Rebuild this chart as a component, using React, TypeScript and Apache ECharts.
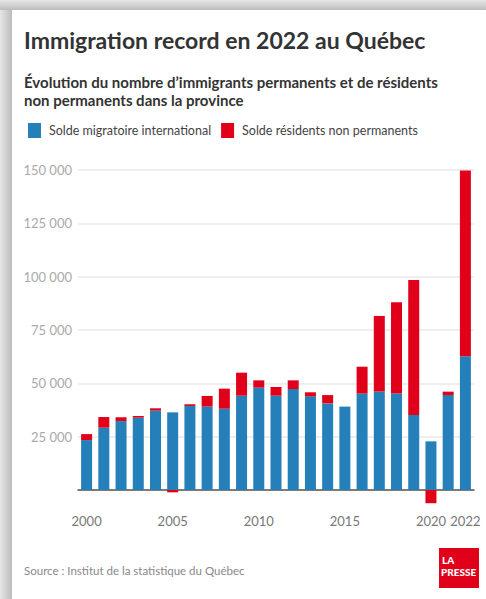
import React, { useEffect, useRef } from "react";
import * as echarts from "echarts";

const years = [
  "2000", "2001", "2002", "2003", "2004", "2005", "2006", "2007", "2008", "2009", "2010", "2011",
  "2012", "2013", "2014", "2015", "2016", "2017", "2018", "2019", "2020", "2021", "2022",
];
const soldeMigratoire = [
  23400, 29200, 32300, 33900, 37200, 36400, 39400, 39100, 38100, 44200, 48000, 44200,
  47300, 43900, 40600, 39100, 45200, 46100, 45200, 35200, 22800, 44500, 62700,
];
const soldeResidents = [
  2800, 5000, 1800, 800, 1100, -1100, 800, 5000, 9400, 10800, 3400, 4100,
  4100, 1900, 3900, 0, 12600, 35500, 42800, 63200, -6200, 1600, 87100,
];
const xTickLabels = ["2000", "2005", "2010", "2015", "2020", "2022"];
const yTicks = [0, 25000, 50000, 75000, 100000, 125000, 150000];

const BLUE = "#2580ba";
const RED = "#e1001a";
const FONT = "Lato, 'Open Sans', sans-serif";

const fmt = (v: number) => (v === 0 ? "" : String(v).replace(/\B(?=(\d{3})+(?!\d))/g, " "));

export default function App() {
  const ref = useRef<HTMLDivElement>(null);
  useEffect(() => {
    if (!ref.current) return;
    const chart = echarts.init(ref.current, null, { renderer: "svg" });
    chart.setOption({
      animation: false,
      backgroundColor: "#ffffff",
      textStyle: { fontFamily: FONT },
      graphic: [
        {
          type: "rect",
          shape: { x: 0, y: 0, width: 12, height: 599 },
          style: {
            fill: new echarts.graphic.LinearGradient(0, 0, 1, 0, [
              { offset: 0, color: "#e6e6e6" },
              { offset: 1, color: "#bcbcbc" },
            ]),
          },
          silent: true,
        },
        {
          type: "rect",
          shape: { x: 0, y: 0, width: 486, height: 10 },
          style: {
            fill: new echarts.graphic.LinearGradient(0, 0, 0, 1, [
              { offset: 0, color: "#e6e6e6" },
              { offset: 1, color: "#bcbcbc" },
            ]),
          },
          silent: true,
        },
        {
          type: "text",
          x: 24,
          y: 40,
          style: {
            text: "Immigration record en 2022 au Québec",
            font: `bold 23px ${FONT}`,
            fill: "#333333",
            verticalAlign: "middle",
          },
        },
        {
          type: "text",
          x: 24,
          y: 82,
          style: {
            text: "Évolution du nombre d’immigrants permanents et de résidents",
            font: `bold 15px ${FONT}`,
            fill: "#333333",
            verticalAlign: "middle",
          },
        },
        {
          type: "text",
          x: 24,
          y: 100,
          style: {
            text: "non permanents dans la province",
            font: `bold 15px ${FONT}`,
            fill: "#333333",
            verticalAlign: "middle",
          },
        },
        {
          type: "text",
          x: 24,
          y: 570,
          style: {
            text: "Source : Institut de la statistique du Québec",
            font: `11.5px ${FONT}`,
            fill: "#888888",
            verticalAlign: "middle",
          },
        },
        {
          type: "rect",
          shape: { x: 439, y: 548, width: 40, height: 40 },
          style: { fill: RED },
        },
        {
          type: "text",
          x: 442,
          y: 560,
          style: {
            text: "LA",
            font: `900 10px ${FONT}`,
            fill: "#ffffff",
            verticalAlign: "middle",
          },
        },
        {
          type: "text",
          x: 441,
          y: 572,
          style: {
            text: "PRESSE",
            font: `900 10px ${FONT}`,
            fill: "#ffffff",
            verticalAlign: "middle",
          },
        },
      ],
      legend: {
        left: 23,
        top: 118,
        itemWidth: 13,
        itemHeight: 15,
        itemGap: 10,
        icon: "rect",
        textStyle: { fontFamily: FONT, fontSize: 12.5, color: "#444444", padding: [0, 0, 0, 3] },
        data: ["Solde migratoire international", "Solde résidents non permanents"],
      },
      grid: { left: 78, right: 12, top: 170, bottom: 109, containLabel: false },
      xAxis: {
        type: "category",
        data: years,
        axisLine: { show: true, lineStyle: { color: "#555555", width: 1.5 } },
        axisTick: { show: false },
        axisLabel: {
          interval: (_i: number, v: string) => xTickLabels.includes(v),
          color: "#777777",
          fontSize: 13,
          fontFamily: FONT,
          margin: 24,
        },
      },
      yAxis: {
        type: "value",
        min: 0,
        max: 150000,
        interval: 25000,
        axisLine: { show: false },
        axisTick: { show: false },
        splitLine: { lineStyle: { color: "#e8e8e8", width: 1.5 } },
        axisLabel: {
          color: "#aaaaaa",
          fontSize: 13,
          fontFamily: FONT,
          margin: 6,
          formatter: (v: number) => (yTicks.includes(v) ? fmt(v) : ""),
        },
      },
      series: [
        {
          name: "Solde migratoire international",
          type: "bar",
          stack: "total",
          data: soldeMigratoire,
          barWidth: 11,
          clip: false,
          itemStyle: { color: BLUE },
        },
        {
          name: "Solde résidents non permanents",
          type: "bar",
          stack: "total",
          data: soldeResidents,
          barWidth: 11,
          clip: false,
          itemStyle: { color: RED },
        },
      ],
    });
    return () => chart.dispose();
  }, []);
  return (
    <div
      ref={ref}
      style={{ position: "fixed", left: 0, top: 0, width: 486, height: 599 }}
    />
  );
}
